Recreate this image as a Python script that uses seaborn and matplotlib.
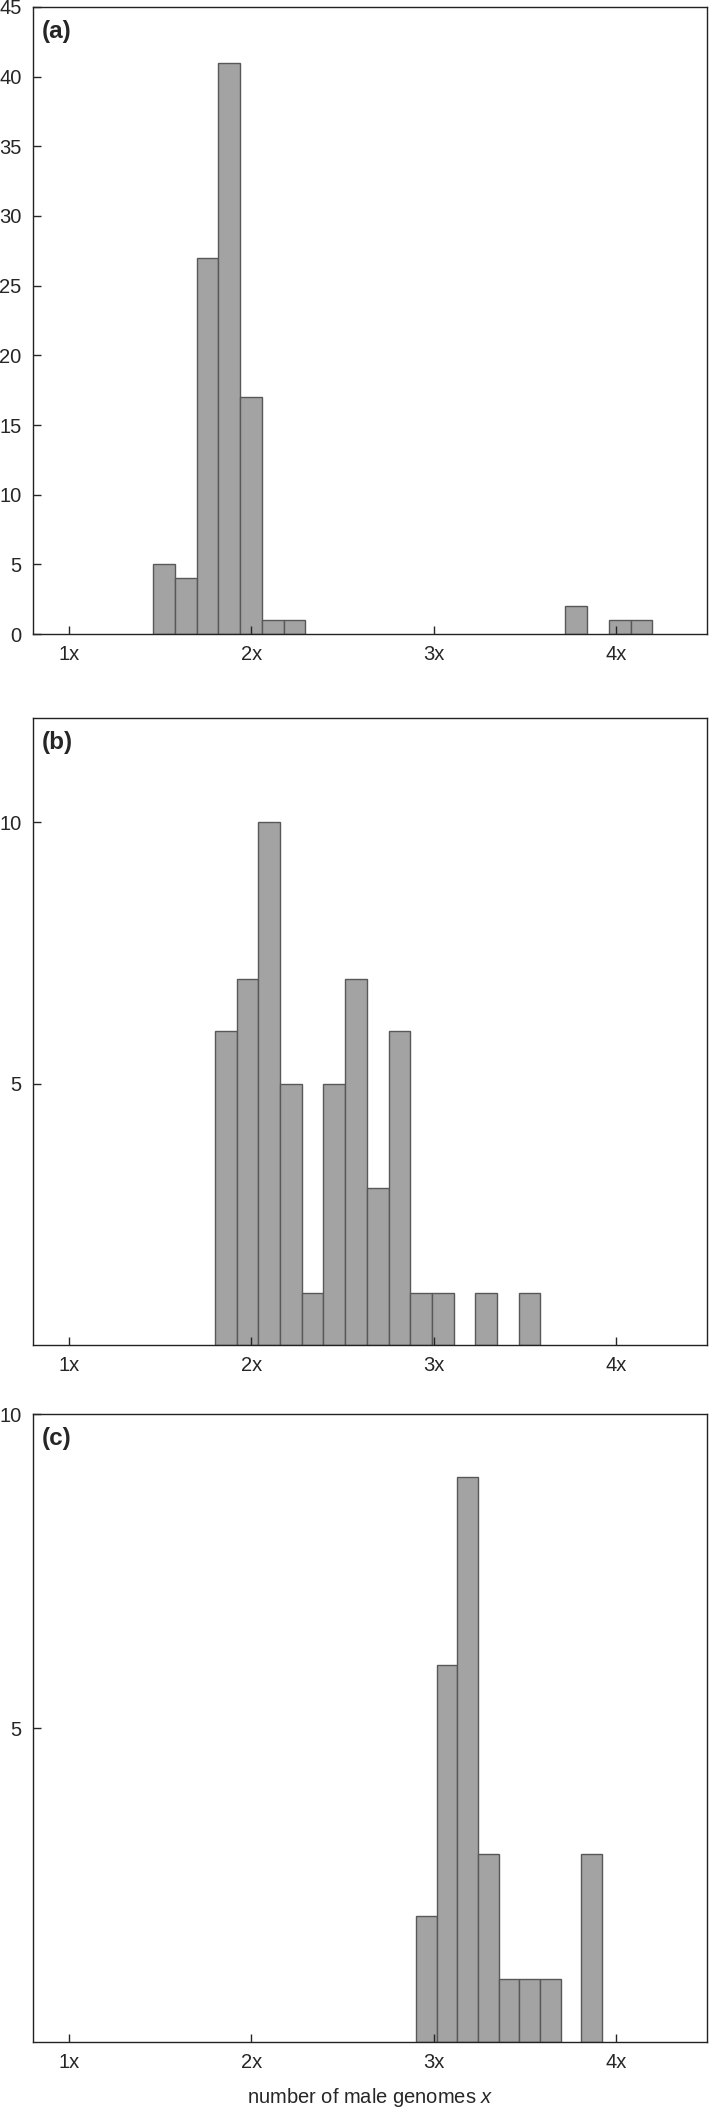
import numpy as np
import pandas as pd
import matplotlib
matplotlib.use("Agg")
import matplotlib.pyplot as plt
import seaborn as sns

# Histogram counts (bins of equal width per panel)
x_ticks = [1, 2, 3, 4]
x_tick_labels = ["1x", "2x", "3x", "4x"]

# (a)
a_start = 1.463
a_width = 0.119
a_counts = [5, 4, 27, 41, 17, 1, 1,
            0, 0, 0, 0, 0, 0, 0, 0, 0, 0, 0, 0,
            2, 0, 1, 1]
a_yticks = [0, 5, 10, 15, 20, 25, 30, 35, 40, 45]

# (b)
b_start = 1.801
b_width = 0.119
b_counts = [6, 7, 10, 5, 1, 5, 7, 3, 6, 1, 1, 0, 1, 0, 1]
b_yticks = [5, 10]

# (c)
c_start = 2.904
c_width = 0.1134
c_counts = [2, 6, 9, 3, 1, 1, 1, 0, 3]
c_yticks = [5, 10]

panels = [
    ("(a)", a_start, a_width, a_counts, a_yticks, 45),
    ("(b)", b_start, b_width, b_counts, b_yticks, 12),
    ("(c)", c_start, c_width, c_counts, c_yticks, 10),
]

sns.set_style("ticks")
plt.rcParams["font.family"] = ["Liberation Sans", "DejaVu Sans"]
plt.rcParams["mathtext.fontset"] = "custom"
plt.rcParams["mathtext.it"] = "Liberation Sans:italic"
plt.rcParams["mathtext.rm"] = "Liberation Sans"

fig = plt.figure(figsize=(7.09, 21.10), dpi=100)

# axes boxes in figure fractions: left, bottom, width, height
boxes = [
    (0.046, 0.6995, 0.951, 0.2972),
    (0.046, 0.3626, 0.951, 0.2972),
    (0.046, 0.0322, 0.951, 0.2976),
]

for (label, start, width, counts, yticks, ytop), box in zip(panels, boxes):
    ax = fig.add_axes(box)
    edges = (start + width * np.arange(len(counts) + 1)).tolist()
    centers = [(lo + hi) / 2 for lo, hi in zip(edges[:-1], edges[1:])]
    df = pd.DataFrame({"x": centers, "n": counts})

    sns.histplot(
        data=df,
        x="x",
        weights="n",
        bins=edges,
        ax=ax,
        color="#a3a3a3",
        edgecolor="#585858",
        linewidth=1.0,
        alpha=1,
    )
    # hide the empty bins
    for p in ax.patches:
        if p.get_height() == 0:
            p.set_visible(False)

    ax.set_xlim(0.8, 4.5)
    ax.set_ylim(0, ytop)
    ax.set_xticks(x_ticks)
    ax.set_xticklabels(x_tick_labels)
    ax.set_yticks(yticks)
    ax.set_ylabel("")
    ax.set_xlabel("")
    ax.tick_params(direction="in", length=5.5, width=1, labelsize=14.5,
                   pad=8, zorder=5)
    for s in ax.spines.values():
        s.set_linewidth(1.0)
        s.set_color("#222222")
    ax.set_axisbelow(False)
    ax.text(0.013, 0.979, label, transform=ax.transAxes, fontsize=17.5,
            fontweight="bold", va="top", ha="left")

ax.set_xlabel(r"number of male genomes $\it{x}$", fontsize=14.5, labelpad=10)

plt.savefig("out.png", dpi=100)
